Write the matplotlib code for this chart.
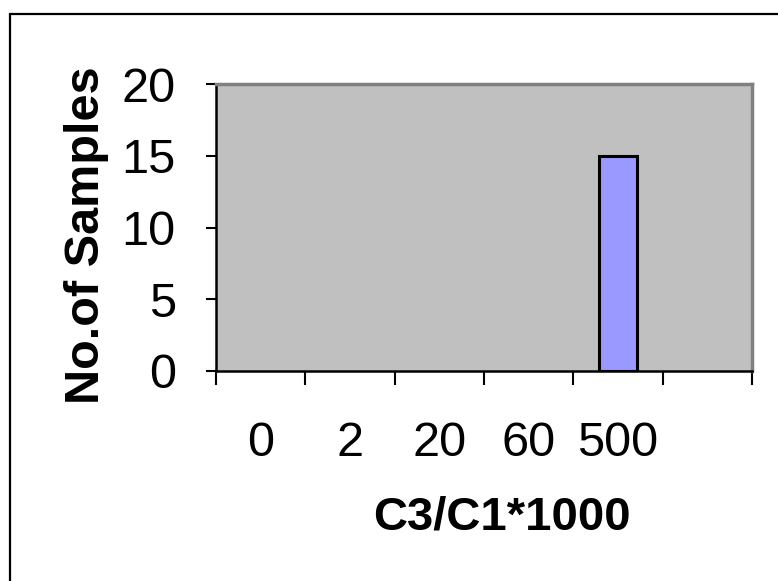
import matplotlib
matplotlib.use("Agg")
import matplotlib.pyplot as plt
from matplotlib.patches import Rectangle
import numpy as np

categories = ["0", "2", "20", "60", "500", ""]
counts = [0, 0, 0, 0, 15, 0]
y_ticks = [0, 5, 10, 15, 20]

plt.rcParams['font.family'] = ['Liberation Sans', 'DejaVu Sans']

W, H = 778, 581
fig = plt.figure(figsize=(W / 100, H / 100), dpi=100)
ax = fig.add_axes([216 / W, 1 - 371 / H, (752 - 216) / W, (371 - 84) / H])
ax.set_facecolor("#C0C0C0")

x = np.arange(len(categories))
lws = [2.2 if c > 0 else 0 for c in counts]
ax.bar(x, counts, width=0.43, color="#9999FF", edgecolor="black", linewidth=lws, zorder=3)

ax.set_xlim(-0.5, len(categories) - 0.5)
ax.set_ylim(0, 20)
ax.set_yticks(y_ticks)
ax.set_yticklabels([str(v) for v in y_ticks], fontsize=35)
ax.tick_params(axis='y', length=7, width=1.5, pad=22, color="black")

ax.set_xticks(x)
ax.set_xticklabels(categories, fontsize=35)
ax.tick_params(axis='x', which='major', length=0, pad=36)
ax.set_xticks(np.arange(-0.5, len(categories)), minor=True)
ax.tick_params(axis='x', which='minor', length=10, width=1.5, color="black")

for side in ("left", "bottom"):
    ax.spines[side].set_color("black")
    ax.spines[side].set_linewidth(1.8)
for side in ("top", "right"):
    ax.spines[side].set_color("#808080")
    ax.spines[side].set_linewidth(2.5)

fig.text(87 / W, 1 - 235 / H, "No.of Samples", rotation=90, ha="center", va="center",
         fontsize=35, fontweight="bold")
fig.text(502 / W, 1 - 530 / H, "C3/C1*1000", ha="center", va="baseline",
         fontsize=34, fontweight="bold")

fig.add_artist(Rectangle((9.5 / W, -0.2), 1.5, 1 - 13.5 / H + 0.2, transform=fig.transFigure,
                         fill=False, edgecolor="black", linewidth=1.6))

fig.savefig("out.png", dpi=100)
